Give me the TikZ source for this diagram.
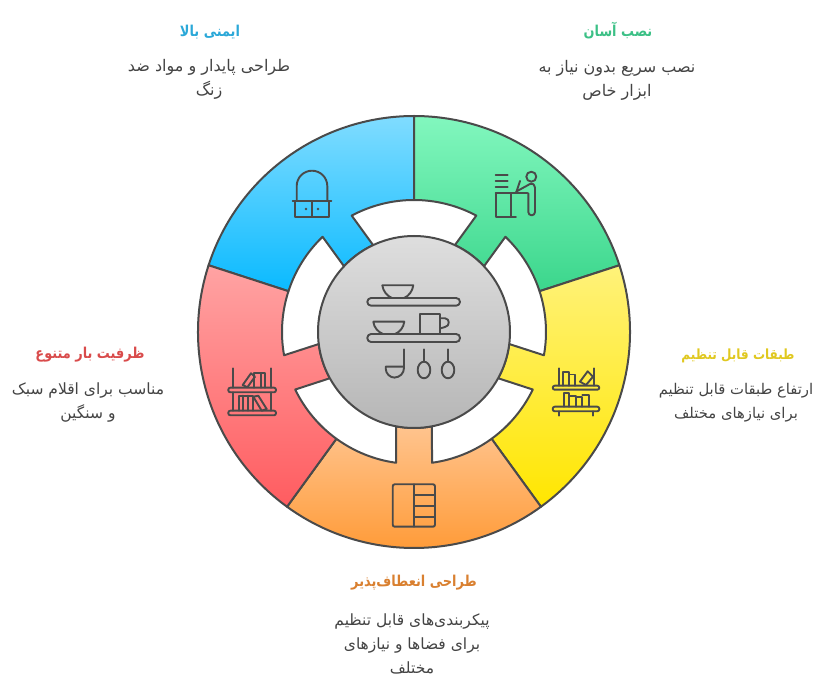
\documentclass[tikz,border=0pt]{standalone}
\usepackage{fontspec}
\newfontfamily\farsi[Script=Arabic]{DejaVu Sans}
\newfontfamily\farsihead[Script=Arabic,FakeStretch=0.86]{DejaVu Sans Bold}
\TeXXeTstate=1
\newcommand{\fal}[1]{\beginR #1\endR}
\definecolor{ink}{HTML}{4A4A4A}
\definecolor{bodyc}{HTML}{444444}
\definecolor{blueT}{HTML}{80DCFF}\definecolor{blueB}{HTML}{0ABAFF}\definecolor{blueI}{HTML}{2BA8D8}
\definecolor{greenT}{HTML}{82F7BE}\definecolor{greenB}{HTML}{3BD68C}\definecolor{greenI}{HTML}{3CC086}
\definecolor{yellowT}{HTML}{FFF27A}\definecolor{yellowB}{HTML}{FFE600}\definecolor{yellowI}{HTML}{E0C820}
\definecolor{orangeT}{HTML}{FFC48E}\definecolor{orangeB}{HTML}{FF9730}\definecolor{orangeI}{HTML}{D98030}
\definecolor{redT}{HTML}{FFA3A3}\definecolor{redB}{HTML}{FF5C60}\definecolor{redI}{HTML}{D94B4B}
\definecolor{hubT}{HTML}{DEDEDE}\definecolor{hubB}{HTML}{B6B6B6}
\newcommand{\ringseg}[3]{%
  \pgfmathsetmacro{\aS}{#1}\pgfmathsetmacro{\aE}{#1+72}\pgfmathsetmacro{\aM}{#1+36}
  \pgfmathsetmacro{\tA}{\aM+7.84}\pgfmathsetmacro{\tB}{\aM+10.8}
  \pgfmathsetmacro{\tC}{\aM-10.8}\pgfmathsetmacro{\tD}{\aM-7.84}
  \path[seg,top color=#2,bottom color=#3]
    (\aS:216) arc[start angle=\aS,end angle=\aE,radius=216]
    -- (\aE:132) arc[start angle=\aE,end angle=\tA,radius=132]
    -- (\tB:96) arc[start angle=\tB,end angle=\tC,radius=96]
    -- (\tD:132) arc[start angle=\tD,end angle=\aS,radius=132]
    -- cycle;}
\tikzset{
  seg/.style={draw=ink,line width=2pt,line join=round},
  icon/.style={draw=ink,line width=1.9pt,line join=round,line cap=round},
  titletext/.style={font=\farsihead\fontsize{15}{20}\selectfont,align=center,inner sep=0pt},
  titlesmall/.style={font=\farsihead\fontsize{14}{20}\selectfont,align=center,inner sep=0pt},
  bodytext/.style={font=\farsi\fontsize{16}{24}\selectfont,text=bodyc,align=center,inner sep=0pt},
  bodymid/.style={font=\farsi\fontsize{15.5}{24}\selectfont,text=bodyc,align=center,inner sep=0pt},
  bodynarrow/.style={font=\farsi\fontsize{14.8}{24}\selectfont,text=bodyc,align=center,inner sep=0pt},
  hubstyle/.style={circle,draw=ink,line width=2pt,minimum size=192pt,inner sep=0pt,top color=hubT,bottom color=hubB}
}
\begin{document}
\begin{tikzpicture}[x=1pt,y=-1pt]
\useasboundingbox (0,0) rectangle (823,684);
\begin{scope}[shift={(414,332)},y=1pt]
  \ringseg{90}{blueT}{blueB}
  \ringseg{18}{greenT}{greenB}
  \ringseg{-54}{yellowT}{yellowB}
  \ringseg{-126}{orangeT}{orangeB}
  \ringseg{162}{redT}{redB}
\end{scope}
\node[hubstyle] (hub) at (414,332) {};
% hub icon
\draw[icon,rounded corners=3.8pt] (367.3,298) rectangle (460,305.7);
\draw[icon,rounded corners=3.8pt] (367.3,334) rectangle (460,342);
\draw[icon] (382.3,285.3) -- (413.3,285.3) .. controls (412.5,291) and (409,296) .. (404,298) -- (392,298) .. controls (387,296) and (383,291) .. (382.3,285.3);
\draw[icon] (373.3,321.7) -- (404.3,321.7) .. controls (403.5,327.5) and (400,332) .. (395,334) -- (383,334) .. controls (378,332) and (374,327.5) .. (373.3,321.7);
\draw[icon] (419.7,334) -- (419.7,314) -- (440,314) -- (440,334);
\draw[icon] (440,318.3) -- (445,318.3) .. controls (450,318.3) and (450,326.5) .. (445,327) -- (440,328.5);
\draw[icon] (404,349.3) -- (404,368) arc[start angle=0,end angle=90,radius=9.5] -- (395,377.7) arc[start angle=90,end angle=180,radius=9.3] -- (385.7,366.7) -- (404,366.7);
\draw[icon] (424,349.3) -- (424,361.7);
\draw[icon] (424,370) ellipse[x radius=6.3,y radius=8.3];
\draw[icon] (448,349.3) -- (448,361.7);
\draw[icon] (448,370) ellipse[x radius=6.3,y radius=8.3];
% blue icon
\draw[icon] (296.7,201) -- (296.7,186) arc[start angle=180,end angle=360,radius=15.3] -- (327.3,201);
\draw[icon] (292.7,201) -- (331.3,201);
\draw[icon] (295,201) -- (295,217) -- (329.3,217) -- (329.3,201);
\draw[icon] (312,201) -- (312,217);
\fill[ink] (306,209) circle[radius=1.3];
\fill[ink] (318,209) circle[radius=1.3];
% green icon
\draw[icon] (495.7,175) -- (507.7,175);
\draw[icon] (495.7,181) -- (507.7,181);
\draw[icon] (495.7,187) -- (507.7,187);
\draw[icon] (495.7,193.3) -- (527.3,193.3);
\draw[icon] (496,193.3) -- (496,216.7) -- (516,216.7);
\draw[icon] (511,193.3) -- (511,216.7);
\draw[icon] (531.3,176.7) circle[radius=5];
\draw[icon] (516,191.7) -- (530,184) .. controls (533,183) and (535,185) .. (535,187.5) -- (535,212) arc[start angle=0,end angle=180,radius=3.35] -- (528.3,193.3);
\draw[icon] (520,181) -- (516.7,191);
% yellow icon
\draw[icon,rounded corners=2pt] (552.7,385.7) rectangle (599.3,389.7);
\draw[icon,rounded corners=2pt] (552.7,406.7) rectangle (599.3,411.3);
\draw[icon] (559,368.3) -- (559,385.7);
\draw[icon] (593.7,368.3) -- (593.7,385.7);
\draw[icon] (559,411.3) -- (559,415.7);
\draw[icon] (593,411.3) -- (593,415.7);
\draw[icon] (562.7,385.7) -- (562.7,372) -- (569.3,372) -- (569.3,385.7);
\draw[icon] (569.3,374.5) -- (575,374.5) -- (575,385.7);
\draw[icon] (580,381.7) -- (587.7,371.3) -- (593,376.7) -- (586,385) -- cycle;
\draw[icon] (564.3,406.7) -- (564.3,393.3) -- (569.3,393.3) -- (569.3,406.7);
\draw[icon] (569.3,395.7) -- (575.7,395.7) -- (575.7,406.7);
\draw[icon] (575.7,397.3) -- (582.3,397.3) -- (582.3,406.7);
\draw[icon] (582.3,395) -- (589,395) -- (589,406.7);
% red icon
\draw[icon,rounded corners=2pt] (228.3,387.7) rectangle (276,392.3);
\draw[icon,rounded corners=2pt] (228.3,410.7) rectangle (276,415.3);
\draw[icon] (233,368.3) -- (233,387.7);
\draw[icon] (270.7,368.3) -- (270.7,387.7);
\draw[icon] (233,392.3) -- (233,410.7);
\draw[icon] (270.7,392.3) -- (270.7,410.7);
\draw[icon] (242.7,385) -- (251,373.3) -- (255,376.7) -- (247.3,387.3) -- cycle;
\draw[icon] (254.3,387.7) -- (254.3,373.3) -- (265.3,373.3) -- (265.3,387.7);
\draw[icon] (260.7,373.3) -- (260.7,387.7);
\draw[icon] (239,410.7) -- (239,395.7) -- (253.3,395.7) -- (253.3,410.7);
\draw[icon] (243.3,395.7) -- (243.3,410.7);
\draw[icon] (248.3,395.7) -- (248.3,410.7);
\draw[icon] (253.3,396.7) -- (258.3,395.7) -- (266.7,409) -- (261.7,410.7) -- cycle;
% orange icon
\draw[icon,rounded corners=2pt] (392.7,484.3) rectangle (435,526.7);
\draw[icon] (414,484.3) -- (414,526.7);
\draw[icon] (414,495) -- (435,495);
\draw[icon] (414,505.7) -- (435,505.7);
\draw[icon] (414,516.7) -- (435,516.7);
% texts
\node[titletext,text=blueI] (t1) at (210,32) {\fal{ایمنی بالا}};
\node[bodytext] (b1) at (209,79) {\fal{طراحی پایدار و مواد ضد}\\\fal{زنگ}};
\node[titletext,text=greenI] (t2) at (618,31) {\fal{نصب آسان}};
\node[bodytext] (b2) at (617,80) {\fal{نصب سریع بدون نیاز به}\\\fal{ابزار خاص}};
\node[titlesmall,text=yellowI] (t3) at (738,356) {\fal{طبقات قابل تنظیم}};
\node[bodynarrow] (b3) at (736,403) {\fal{ارتفاع طبقات قابل تنظیم}\\\fal{برای نیازهای مختلف}};
\node[titletext,text=orangeI] (t4) at (414,583) {\fal{طراحی انعطاف‌پذیر}};
\node[bodymid] (b4) at (412,644) {\fal{پیکربندی‌های قابل تنظیم}\\\fal{برای فضاها و نیازهای}\\\fal{مختلف}};
\node[titletext,text=redI] (t5) at (90,355) {\fal{ظرفیت بار متنوع}};
\node[bodymid] (b5) at (88,403) {\fal{مناسب برای اقلام سبک}\\\fal{و سنگین}};
\end{tikzpicture}
\end{document}
